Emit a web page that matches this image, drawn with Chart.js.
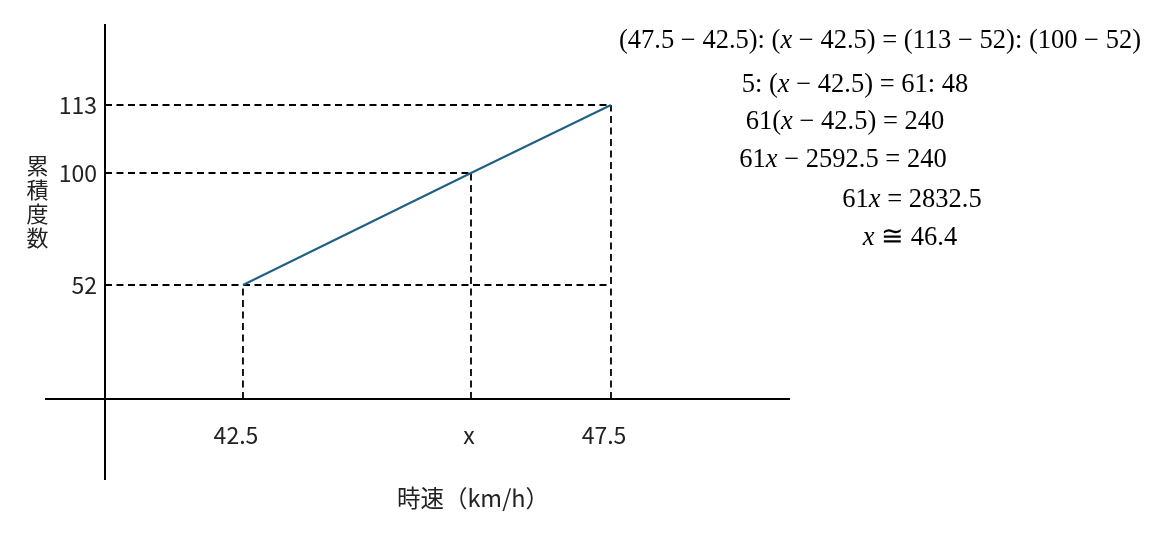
<!DOCTYPE html>
<html>
<head>
<meta charset="utf-8">
<script src="https://cdn.jsdelivr.net/npm/chart.js@4.4.1/dist/chart.umd.min.js"></script>
<style>
  html, body { margin: 0; background: #fff; }
  #wrap { width: 1165px; height: 537px; }
</style>
</head>
<body>
<div id="wrap"><canvas id="cumChart"></canvas></div>
<script>
// ---- data ----
const speeds      = [42.5, 46.4, 47.5];        // 時速 (46.4 = x)
const speedLabels = ['42.5', 'x', '47.5'];
const cumFreq     = [52, 100, 113];            // 累積度数
const cumLabels   = ['52', '100', '113'];
const xCross = 40;                             // where the y axis sits
const yCross = 0;                              // where the x axis sits
const xRange = [39, 50];
const yRange = [-35, 150];

const equations = [
  '(47.5 − 42.5): (x − 42.5) = (113 − 52): (100 − 52)',
  '5: (x − 42.5) = 61: 48',
  '61(x − 42.5) = 240',
  '61x − 2592.5 = 240',
  '61x = 2832.5',
  'x ≅ 46.4',
];

// ---- layout (schematic, not to scale) ----
const X_FRAC = [0, 0.0794, 0.2651, 0.5720, 0.7604, 1];
const Y_FRAC = [0, 0.1762, 0.4273, 0.6740, 0.8238, 1];
const X_LABEL_SHIFT = [-7, -2, -7];
const EQ_POS = [[880, 48], [855, 92], [845, 129], [843, 167], [912, 207], [910, 245]];
const LINE_COLOR = '#1f5f84';
const TICK_FONT  = { family: '"Noto Sans CJK JP", "Noto Sans", sans-serif', size: 23 };
const MATH_FONT  = '"Liberation Serif", "DejaVu Serif", serif';

const KNOTS = {
  x: [xRange[0], xCross, ...speeds, xRange[1]].map((v, i) => [v, X_FRAC[i]]),
  y: [yRange[0], yCross, ...cumFreq, yRange[1]].map((v, i) => [v, Y_FRAC[i]]),
};
const TICKS = { x: speeds, y: cumFreq };

// linear scale with break points, so the drawing can stay schematic
class KnotScale extends Chart.LinearScale {
  _frac(value) {
    const k = KNOTS[this.id];
    for (let i = 1; i < k.length; i++) {
      if (value <= k[i][0] || i === k.length - 1) {
        const t = (value - k[i - 1][0]) / (k[i][0] - k[i - 1][0]);
        return k[i - 1][1] + t * (k[i][1] - k[i - 1][1]);
      }
    }
    return 0;
  }
  buildTicks() {
    return TICKS[this.id].map(v => ({ value: v }));
  }
  getPixelForValue(value) {
    return this.getPixelForDecimal(this._frac(value));
  }
  getValueForPixel(pixel) {
    const d = this.getDecimalForPixel(pixel);
    const k = KNOTS[this.id];
    for (let i = 1; i < k.length; i++) {
      if (d <= k[i][1] || i === k.length - 1) {
        const t = (d - k[i - 1][1]) / (k[i][1] - k[i - 1][1]);
        return k[i - 1][0] + t * (k[i][0] - k[i - 1][0]);
      }
    }
    return 0;
  }
  // y labels of a crossing axis get no padding by default; add it here
  _computeLabelItems(chartArea) {
    const items = super._computeLabelItems(chartArea);
    if (this.isHorizontal()) {
      items.forEach((it, i) => { it.options.translation[0] += X_LABEL_SHIFT[i] || 0; });
    } else {
      const pad = this.options.ticks.padding;
      items.forEach(it => { it.options.translation[0] -= pad; });
    }
    return items;
  }
}
KnotScale.id = 'knot';
KnotScale.defaults = Chart.LinearScale.defaults;
Chart.register(KnotScale);

// dashed drop lines from each point to both axes
const guides = [];
speeds.forEach((s, i) => {
  const hEnd = i === 0 ? speeds[speeds.length - 1] : s;
  guides.push([{ x: xCross, y: cumFreq[i] }, { x: hEnd, y: cumFreq[i] }]);
  guides.push([{ x: s, y: yCross }, { x: s, y: cumFreq[i] }]);
});

function drawMath(ctx, text, cx, baseline, size) {
  const parts = text.split(/(x)/).filter(p => p.length);
  const fontOf = p => (p === 'x' ? 'italic ' : '') + size + 'px ' + MATH_FONT;
  let total = 0;
  parts.forEach(p => { ctx.font = fontOf(p); total += ctx.measureText(p).width; });
  let px = cx - total / 2;
  parts.forEach(p => {
    ctx.font = fontOf(p);
    ctx.fillText(p, px, baseline);
    px += ctx.measureText(p).width;
  });
}

const annotations = {
  id: 'annotations',
  afterDraw(chart) {
    const ctx = chart.ctx;
    ctx.save();
    ctx.fillStyle = '#000';
    ctx.textAlign = 'left';
    ctx.textBaseline = 'alphabetic';
    equations.forEach((eq, i) => drawMath(ctx, eq, EQ_POS[i][0], EQ_POS[i][1], 26.5));

    ctx.fillStyle = '#222';
    ctx.textAlign = 'center';
    ctx.textBaseline = 'middle';
    ctx.font = '23.5px ' + TICK_FONT.family;
    ctx.fillText('時速（km/h）', 473, 498);
    ctx.font = '22px ' + TICK_FONT.family;
    ['累', '積', '度', '数'].forEach((ch, i) => ctx.fillText(ch, 37.5, 166 + i * 24));
    ctx.restore();
  }
};

new Chart(document.getElementById('cumChart'), {
  type: 'line',
  data: {
    datasets: [
      {
        data: speeds.map((s, i) => ({ x: s, y: cumFreq[i] })),
        borderColor: LINE_COLOR, borderWidth: 2, pointRadius: 0, tension: 0,
      },
      ...guides.map(g => ({
        data: g,
        borderColor: '#000', borderWidth: 1.8, borderDash: [7, 4.5],
        pointRadius: 0, tension: 0,
      })),
    ],
  },
  options: {
    responsive: true, maintainAspectRatio: false, animation: false,
    layout: { padding: { left: 46, right: 376, top: 25, bottom: 58 } },
    plugins: { legend: { display: false }, tooltip: { enabled: false } },
    scales: {
      x: {
        type: 'knot', min: xRange[0], max: xRange[1],
        position: { y: yCross },
        grid: { display: false, drawTicks: false },
        border: { color: '#000', width: 2 },
        ticks: {
          color: '#222', font: TICK_FONT, padding: 22,
          maxRotation: 0, autoSkip: false,
          callback: (v, i) => speedLabels[i],
        },
      },
      y: {
        type: 'knot', min: yRange[0], max: yRange[1],
        position: { x: xCross },
        grid: { display: false, drawTicks: false },
        border: { color: '#000', width: 2 },
        ticks: {
          color: '#222', font: TICK_FONT, padding: 8, autoSkip: false,
          callback: (v, i) => cumLabels[i],
        },
      },
    },
  },
  plugins: [annotations],
});
</script>
</body>
</html>
